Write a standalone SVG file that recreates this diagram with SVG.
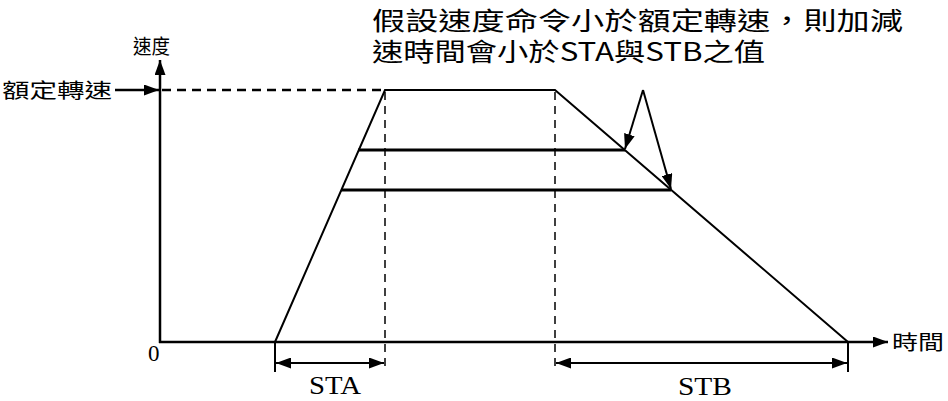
<svg xmlns="http://www.w3.org/2000/svg" width="948" height="401" viewBox="0 0 948 401">
<style>
.cjk{font-family:"Noto Sans CJK TC","Noto Sans CJK SC",sans-serif;fill:#000}
.ser{font-family:"Liberation Serif",serif;fill:#000}
.ax{stroke:#000;stroke-width:2.5;fill:none}
.ln{stroke:#000;stroke-width:2;fill:none}
.hl{stroke:#000;stroke-width:3;fill:none}
.dsh{stroke:#000;stroke-width:1.5;fill:none;stroke-dasharray:8 6}
.dtop{stroke:#000;stroke-width:2.5;fill:none;stroke-dasharray:9 6}
</style>
<defs>
<marker id="ah" viewBox="0 0 15 11" refX="15" refY="5.5" markerWidth="15" markerHeight="11" markerUnits="userSpaceOnUse" orient="auto-start-reverse">
<path d="M0,0 L15,5.5 L0,11 Z" fill="#000"/>
</marker>
</defs>
<rect width="948" height="401" fill="#fff"/>
<g id="labels">
<text class="cjk" x="372" y="30" font-size="25" textLength="531" lengthAdjust="spacingAndGlyphs">假設速度命令小於額定轉速，則加減</text>
<text class="cjk" x="372" y="61" font-size="25" textLength="393" lengthAdjust="spacingAndGlyphs">速時間會小於STA與STB之值</text>
<text class="cjk" x="133" y="54" font-size="20" textLength="37" lengthAdjust="spacingAndGlyphs">速度</text>
<text class="cjk" x="2" y="98" font-size="20" textLength="110" lengthAdjust="spacingAndGlyphs">額定轉速</text>
<text class="cjk" x="892" y="350" font-size="20" textLength="52" lengthAdjust="spacingAndGlyphs">時間</text>
<text class="ser" x="148" y="361" font-size="23">0</text>
<text class="ser" x="335" y="394" font-size="26" text-anchor="middle" textLength="52" lengthAdjust="spacingAndGlyphs">STA</text>
<text class="ser" x="705" y="395" font-size="26" text-anchor="middle" textLength="54" lengthAdjust="spacingAndGlyphs">STB</text>
</g>
<g id="axes">
<line class="ax" x1="160" y1="343" x2="160" y2="60" marker-end="url(#ah)"/>
<line class="ax" x1="159" y1="342" x2="888" y2="342" marker-end="url(#ah)"/>
<line class="ax" x1="115" y1="90" x2="159" y2="90" marker-end="url(#ah)"/>
</g>
<g id="profile">
<polyline class="ln" points="275,342 385,90 555,90 848,342"/>
<line class="hl" x1="358" y1="150" x2="625" y2="150"/>
<line class="hl" x1="341" y1="190" x2="671" y2="190"/>
</g>
<g id="connectors">
<line class="dtop" x1="162" y1="90" x2="385" y2="90"/>
<line class="dsh" x1="385" y1="92" x2="385" y2="372"/>
<line class="dsh" x1="555" y1="92" x2="555" y2="372"/>
<line class="ln" x1="275" y1="342" x2="275" y2="372"/>
<line class="ln" x1="848" y1="342" x2="848" y2="372"/>
<line class="ln" x1="276" y1="363" x2="384" y2="363" marker-start="url(#ah)" marker-end="url(#ah)"/>
<line class="ln" x1="556" y1="363" x2="847" y2="363" marker-start="url(#ah)" marker-end="url(#ah)"/>
<line class="ln" x1="643" y1="90" x2="625" y2="149" marker-end="url(#ah)"/>
<line class="ln" x1="643" y1="90" x2="671" y2="189" marker-end="url(#ah)"/>
</g>
</svg>
